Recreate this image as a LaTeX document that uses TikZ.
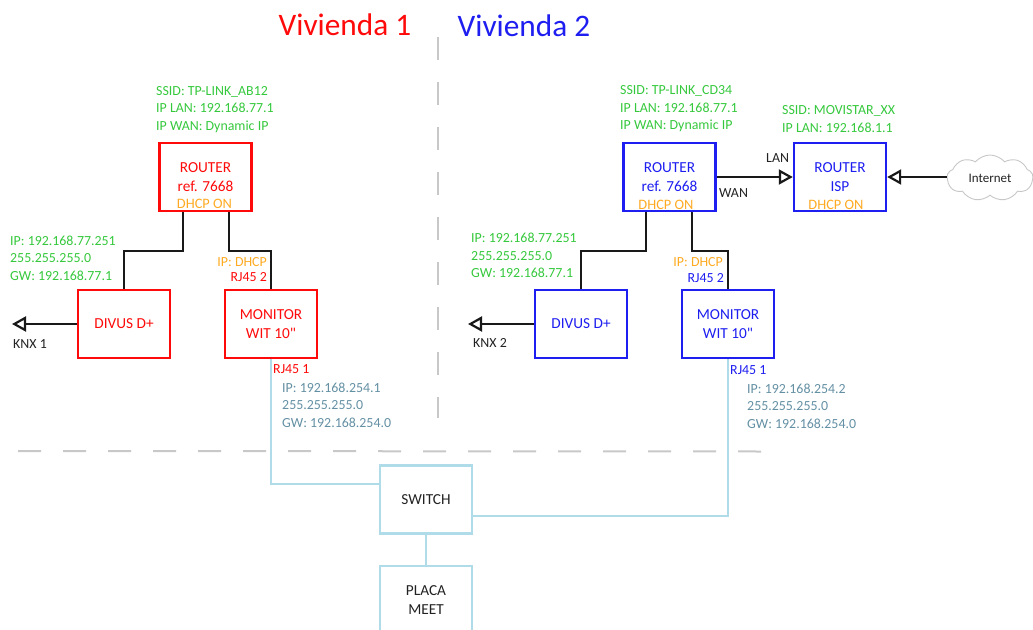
\documentclass[tikz,border=0pt]{standalone}
\usepackage{fontspec}
\setmainfont{Carlito}
\newfontfamily\plainfont{Carlito}
\usetikzlibrary{arrows.meta,shapes.symbols}
\definecolor{cred}{HTML}{FF0A0A}
\definecolor{cblue}{HTML}{1E1EF0}
\definecolor{cgreen}{HTML}{35C83C}
\definecolor{corange}{HTML}{FFAA22}
\definecolor{cteal}{HTML}{6490A4}
\definecolor{clight}{HTML}{B0DCEA}
\definecolor{cgray}{HTML}{C8C8C8}
\definecolor{ctext}{HTML}{222222}
\tikzset{
  box/.style={draw,line width=2.4pt,minimum width=92pt,minimum height=68pt,inner sep=0pt,align=center,font=\fontsize{15.3}{19.5}\selectfont},
  redbox/.style={box,draw=cred,text=cred},
  bluebox/.style={box,draw=cblue,text=cblue},
  netbox/.style={box,draw=clight,text=ctext},
  small/.style={inner sep=0pt,font=\fontsize{13.9}{17.6}\selectfont,align=left,anchor=west},
  smallr/.style={inner sep=0pt,font=\fontsize{13.9}{15}\selectfont,anchor=east},
  dhcp/.style={inner sep=0pt,font=\fontsize{14.4}{15}\selectfont,text=corange},
  title/.style={inner sep=0pt,font=\fontsize{31.3}{33}\selectfont},
  wire/.style={draw=black!90,line width=2.4pt},
  lan/.style={draw=clight,line width=2.2pt},
  divider/.style={draw=cgray,line width=2pt,dash pattern=on 23pt off 22pt},
  openarrow/.style={wire,-{Triangle[open,fill=white,length=14pt,width=15pt,line width=2.2pt]}}
}
\begin{document}
\begin{tikzpicture}[x=1pt,y=-1pt]
\useasboundingbox (0,0) rectangle (1033,629);
\clip (0,0) rectangle (1033,629);
% dividers
\coordinate (vtop) at (438,37);
\coordinate (vbot) at (438,418);
\coordinate (hl) at (18,451);
\coordinate (hr) at (765,451.5);
\draw[divider] (vtop) -- (vbot);
\draw[divider] (hl) -- (hr);
% titles
\node[title,text=cred] (t1) at (345,25) {Vivienda 1};
\node[title,text=cblue] (t2) at (524,26) {Vivienda 2};
% boxes
\node[redbox] (r1) at (205.5,177) {ROUTER\\ref. 7668};
\node[redbox] (d1) at (124,324) {DIVUS D+};
\node[redbox] (m1) at (271,324) {MONITOR\\WIT 10{\plainfont"}};
\node[bluebox] (r2) at (669.5,177) {ROUTER\\ref. 7668};
\node[bluebox] (isp) at (840,177) {ROUTER\\ISP};
\node[bluebox] (d2) at (581,324) {DIVUS D+};
\node[bluebox] (m2) at (728,324) {MONITOR\\WIT 10{\plainfont"}};
\node[netbox] (sw) at (426,499.5) {SWITCH};
\node[netbox] (pm) at (426,600) {};
\node[inner sep=0pt,align=center,text=ctext,font=\fontsize{15.3}{19.5}\selectfont] (pmt) at (426,600) {PLACA\\MEET};
\node[draw=black!22,line width=0.9pt,cloud,cloud puffs=9,cloud puff arc=100,aspect=2,minimum width=86pt,minimum height=46pt,inner sep=0pt,font=\fontsize{13}{15}\selectfont,text=ctext] (cl) at (990,178) {Internet};
% black wires
\draw[wire] ([xshift=-22.5pt]r1.south) -- ++(0,39) -| (d1.north);
\draw[wire] ([xshift=23.5pt]r1.south) -- ++(0,39) -| (m1.north);
\draw[wire] ([xshift=-23.5pt]r2.south) -- ++(0,39) -| (d2.north);
\draw[wire] ([xshift=22.5pt]r2.south) -- ++(0,39) -| (m2.north);
\coordinate (knx1) at (12,324);
\coordinate (knx2) at (468,324);
\draw[openarrow] (d1.west) -- (knx1);
\draw[openarrow] (d2.west) -- (knx2);
\draw[openarrow] (r2.east) -- (isp.west);
\draw[openarrow] (cl.west |- isp.east) -- (isp.east);
% lan wires
\draw[lan] (m1.south) |- ([yshift=15.5pt]sw.west);
\draw[lan] (m2.south) |- ([yshift=-16.5pt]sw.east);
\draw[lan] (sw.south) -- (pm.north);
% dhcp
\node[dhcp] (dh1) at (204.5,204) {DHCP ON};
\node[dhcp] (dh2) at (666,204.5) {DHCP ON};
\node[dhcp] (dh3) at (836,204.5) {DHCP ON};
% green texts
\node[small,text=cgreen] (a1) at (156,109.5) {SSID: TP-LINK\_AB12\\IP LAN: 192.168.77.1\\IP WAN: Dynamic IP};
\node[small,text=cgreen] (a2) at (10,258) {IP: 192.168.77.251\\255.255.255.0\\GW: 192.168.77.1};
\node[small,text=cgreen] (a3) at (620,109) {SSID: TP-LINK\_CD34\\IP LAN: 192.168.77.1\\IP WAN: Dynamic IP};
\node[small,text=cgreen] (a4) at (782,119) {SSID: MOVISTAR\_XX\\IP LAN: 192.168.1.1};
\node[small,text=cgreen] (a5) at (471,255.5) {IP: 192.168.77.251\\255.255.255.0\\GW: 192.168.77.1};
% teal texts
\node[small,text=cteal] (b1) at (282,405) {IP: 192.168.254.1\\255.255.255.0\\GW: 192.168.254.0};
\node[small,text=cteal] (b2) at (747,406) {IP: 192.168.254.2\\255.255.255.0\\GW: 192.168.254.0};
% port labels
\node[smallr,text=corange] (c1) at (267,262) {IP: DHCP};
\node[smallr,text=cred] (c2) at (267,277) {RJ45 2};
\node[small,text=cred] (c3) at (273,369) {RJ45 1};
\node[smallr,text=corange] (c4) at (723,262) {IP: DHCP};
\node[smallr,text=cblue] (c5) at (724,278) {RJ45 2};
\node[small,text=cblue] (c6) at (730,370) {RJ45 1};
% black labels
\node[small,text=ctext] (k1) at (13,344) {KNX 1};
\node[small,text=ctext] (k2) at (473,343) {KNX 2};
\node[small,text=ctext] (l1) at (766,158) {LAN};
\node[small,text=ctext] (l2) at (719,193) {WAN};
\end{tikzpicture}
\end{document}
